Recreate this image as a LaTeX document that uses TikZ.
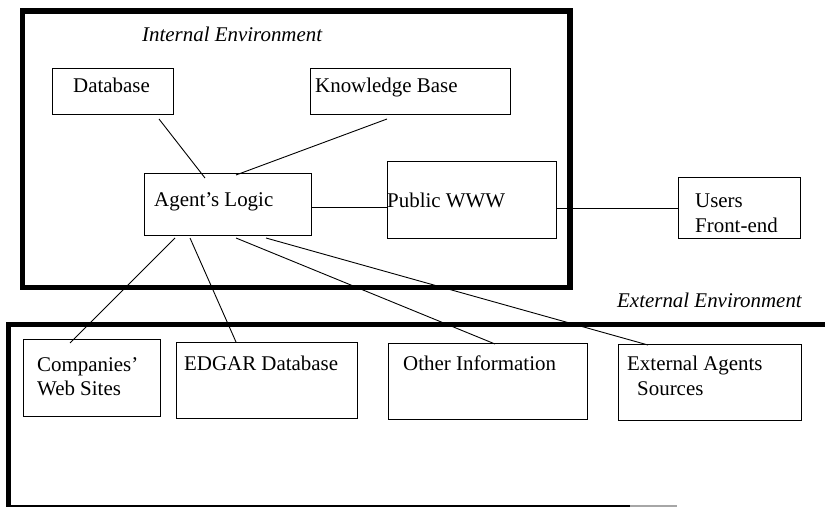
\documentclass[tikz,border=0pt]{standalone}
\usepackage{fontspec}
\setmainfont{Liberation Serif}
\begin{document}
\begin{tikzpicture}[x=1bp,y=-1bp,
  box/.style={draw,line width=0.9bp,inner sep=0pt,minimum width=#1},
  bh/.style={minimum height=#1},
  lbl/.style={anchor=base west,inner sep=0pt,font=\fontsize{21}{24}\selectfont},
  ilbl/.style={lbl,font=\fontsize{21}{24}\selectfont\itshape},
  frame/.style={line width=5.5bp},
  conn/.style={line width=0.9bp}]
\useasboundingbox (0,0) rectangle (825,507);
% environments
\draw[frame] (22.5,11) rectangle (570,287.5);
\draw[frame,line cap=butt] (825,324.5) -- (8.5,324.5) -- (8.5,505.5);
\draw[line width=2.5bp] (6,505.8) -- (630,505.8);
\draw[line width=2.5bp,black!35] (630,505.8) -- (677,505.8);
\node[ilbl] (intl) at (142,42) {Internal Environment};
\node[ilbl] (extl) at (617,308) {External Environment};
% boxes
\node[box=122,bh=47] (db) at (113,91.5) {};
\node[box=201,bh=47] (kb) at (410.5,91.5) {};
\node[box=168,bh=63] (al) at (228,204.5) {};
\node[box=170,bh=78] (pw) at (472,200) {};
\node[box=123,bh=62] (uf) at (739.5,208) {};
\node[box=138,bh=78] (cw) at (92,378) {};
\node[box=182,bh=77] (ed) at (267,380.5) {};
\node[box=200,bh=77] (oi) at (488,381.5) {};
\node[box=184,bh=77] (ea) at (710,382.5) {};
% labels
\node[lbl] (dbt) at (73,93) {Database};
\node[lbl] (kbt) at (315,93) {Knowledge Base};
\node[lbl] (alt) at (154,207) {Agent’s Logic};
\node[lbl] (pwt) at (387,208) {Public WWW};
\node[lbl] (uft1) at (695,208) {Users};
\node[lbl] (uft2) at (695,233) {Front-end};
\node[lbl] (cwt1) at (37,371) {Companies’};
\node[lbl] (cwt2) at (37,395) {Web Sites};
\node[lbl] (edt) at (184,370) {EDGAR Database};
\node[lbl] (oit) at (403,370) {Other Information};
\node[lbl] (eat1) at (627,370) {External Agents};
\node[lbl] (eat2) at (637,395) {Sources};
% connectors
\coordinate (a1) at (159,119); \coordinate (b1) at (205,178);
\coordinate (a2) at (387,119); \coordinate (b2) at (236,175);
\coordinate (a5) at (175,238); \coordinate (b5) at (70,343);
\coordinate (a6) at (190,238); \coordinate (b6) at (236,342);
\coordinate (a7) at (236,238); \coordinate (b7) at (495,344);
\coordinate (a8) at (266,238); \coordinate (b8) at (648,345);
\draw[conn] (a1) -- (b1);
\draw[conn] (a2) -- (b2);
\draw[conn] (al.east |- 0,207) -- (pw.west |- 0,207);
\draw[conn] (pw.east |- 0,208) -- (uf.west |- 0,208);
\draw[conn] (a5) -- (b5);
\draw[conn] (a6) -- (b6);
\draw[conn] (a7) -- (b7);
\draw[conn] (a8) -- (b8);
\end{tikzpicture}
\end{document}
